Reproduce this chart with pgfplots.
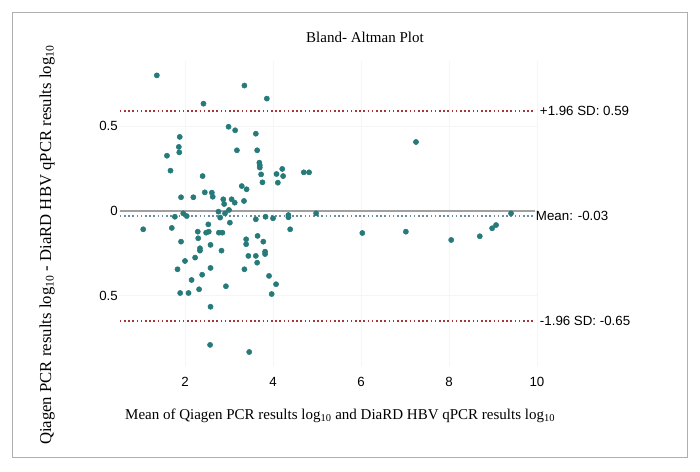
\documentclass[border=0pt]{standalone}
\usepackage{pgfplots}
\pgfplotsset{compat=1.18}
\usepackage{fontspec}
\setmainfont{Liberation Serif}
\newfontfamily\arial{Liberation Sans}
\definecolor{dotc}{RGB}{38,122,122}
\definecolor{sdc}{RGB}{165,55,60}
\definecolor{meanc}{RGB}{110,140,160}
\definecolor{zeroc}{RGB}{160,160,160}
\definecolor{framec}{RGB}{175,175,175}
\begin{document}
\begin{tikzpicture}
\useasboundingbox (-119pt,-105.1pt) rectangle (581pt,365.9pt);
\draw[color=framec, line width=0.9pt] (-107pt,-91.1pt) rectangle (568pt,353.9pt);
\begin{axis}[
  at={(0,0)}, anchor=south west,
  scale only axis, width=418pt, height=304.4pt,
  xmin=0.5, xmax=10, ymin=-0.914, ymax=0.882,
  clip=false,
  axis line style={draw=none},
  tick style={draw=none},
  xtick={2,4,6,8,10}, xticklabels={2,4,6,8,10},
  ytick={-0.5,0,0.5}, yticklabels={0.5,0,0.5},
  grid=major,
  major grid style={color=black!4, line width=0.7pt},
  ticklabel style={font=\arial\fontsize{13.3}{15}\selectfont},
  xticklabel style={anchor=base, yshift=-21pt},
  yticklabel style={anchor=east, inner sep=0pt, xshift=-1pt},
  title={Bland- Altman Plot},
  title style={at={(axis description cs:0.5885,1.061)}, anchor=center, font=\fontsize{15}{18}\selectfont},
  xlabel={Mean of Qiagen PCR results log\textsubscript{10} and DiaRD HBV qPCR results log\textsubscript{10}},
  xlabel style={at={(axis description cs:0.529,-0.1646)}, anchor=center, font=\fontsize{15}{18}\selectfont},
  ylabel={Qiagen PCR results log\textsubscript{10} - DiaRD HBV qPCR results log\textsubscript{10}},
  ylabel style={at={(axis description cs:-0.172,0.397)}, anchor=center, font=\fontsize{16.7}{19}\selectfont},
]
\addplot[zeroc, line width=1.4pt, forget plot] coordinates {(0.52,0) (9.95,0)};
\addplot[meanc, line width=1.4pt, dash pattern=on 1.6pt off 2.6pt, forget plot] coordinates {(0.52,-0.03) (9.95,-0.03)};
\addplot[sdc, line width=1.6pt, dash pattern=on 1.6pt off 2.6pt, forget plot] coordinates {(0.52,0.59) (9.95,0.59)};
\addplot[sdc, line width=1.6pt, dash pattern=on 1.6pt off 2.6pt, forget plot] coordinates {(0.52,-0.65) (9.95,-0.65)};
\addplot[dotc, only marks, mark=*, mark size=2.6pt, mark options={fill=dotc, draw=dotc, line width=0.5pt}] table {
x y
1.36 0.80
3.35 0.74
2.42 0.633
3.86 0.663
2.99 0.497
3.14 0.476
3.61 0.456
1.88 0.437
1.86 0.378
1.87 0.346
1.59 0.326
3.18 0.358
3.64 0.358
3.69 0.285
3.70 0.27
3.70 0.256
3.73 0.216
3.76 0.169
1.67 0.238
2.40 0.206
4.08 0.218
4.21 0.248
4.23 0.206
4.11 0.167
4.70 0.228
4.82 0.228
1.91 0.081
2.19 0.081
2.45 0.110
2.61 0.108
2.63 0.084
3.29 0.147
3.40 0.128
2.87 0.069
2.89 0.041
3.06 0.069
3.13 0.049
3.34 0.059
1.05 -0.108
1.70 -0.10
1.77 -0.034
1.96 -0.014
2.04 -0.03
1.91 -0.181
2.29 -0.122
2.30 -0.161
2.53 -0.079
2.48 -0.128
2.54 -0.122
2.76 -0.004
2.80 -0.039
2.91 -0.014
3.00 0.006
3.02 -0.069
2.77 -0.128
2.85 -0.128
2.34 -0.22
2.34 -0.234
2.58 -0.20
2.83 -0.234
2.00 -0.295
2.23 -0.275
1.83 -0.344
2.15 -0.407
2.39 -0.376
2.58 -0.336
1.89 -0.484
2.08 -0.484
2.32 -0.462
2.93 -0.444
2.58 -0.565
2.57 -0.79
3.46 -0.832
3.61 -0.049
3.83 -0.034
4.00 -0.043
4.35 -0.024
4.35 -0.037
4.39 -0.108
4.98 -0.014
3.39 -0.167
3.39 -0.196
3.65 -0.147
3.78 -0.181
3.82 -0.24
3.82 -0.254
3.44 -0.265
3.61 -0.265
3.64 -0.305
3.35 -0.344
3.91 -0.383
4.07 -0.432
3.97 -0.49
6.03 -0.13
7.02 -0.122
7.25 0.407
8.05 -0.171
8.70 -0.149
8.98 -0.102
9.07 -0.083
9.41 -0.014
};
\node[anchor=west, inner sep=0pt, xshift=5pt, font=\arial\fontsize{13.3}{15}\selectfont] at (axis cs:9.95,0.59) {+1.96 SD: 0.59};
\node[anchor=west, inner sep=0pt, xshift=1pt, font=\arial\fontsize{13.3}{15}\selectfont] at (axis cs:9.95,-0.03) {Mean: -0.03};
\node[anchor=west, inner sep=0pt, xshift=5pt, font=\arial\fontsize{13.3}{15}\selectfont] at (axis cs:9.95,-0.65) {-1.96 SD: -0.65};
\end{axis}
\end{tikzpicture}
\end{document}
